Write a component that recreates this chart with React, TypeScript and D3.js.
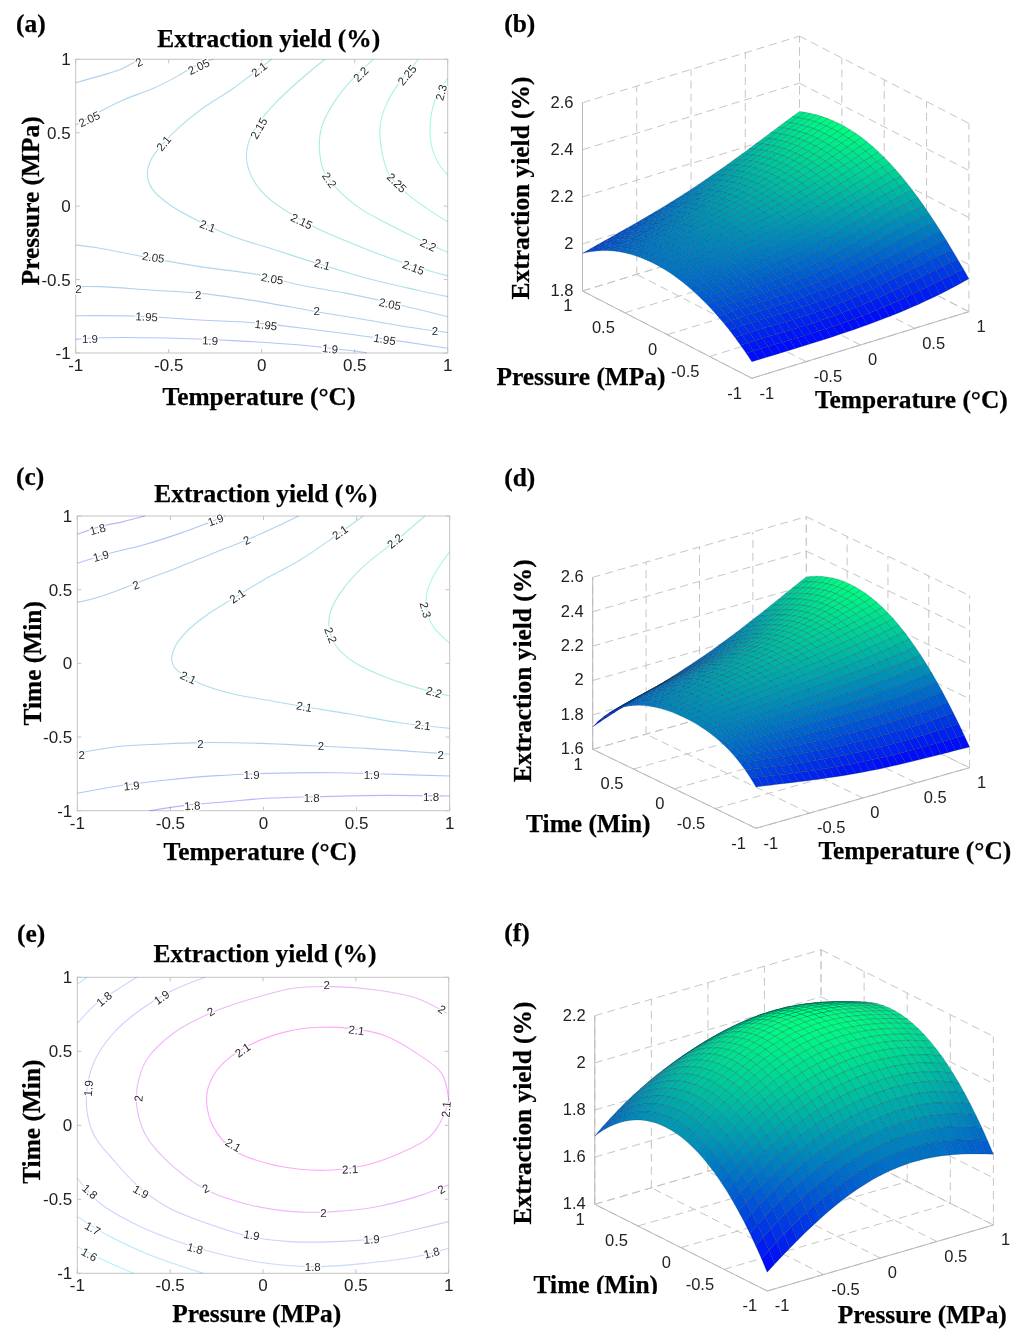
import React from "react";
import * as d3 from "d3";

type Pt = [number, number];
type Line = { level: number; points: Pt[] };
type Lab = [string, number, number, number]; // text, x, y, rotation of the label along its line

const TICKS = [-1, -0.5, 0, 0.5, 1];

// ---- contour lines: Temperature / Pressure
const contoursA: Line[] = [
  { level: 2, points: [[-1,.84],[-.87,.887],[-.76,.93],[-.67,.99],[-.65,1]] },
  { level: 2.05, points: [[-1,.553],[-.87,.644],[-.744,.723],[-.582,.803],[-.457,.882],[-.35,.96],[-.26,1]] },
  { level: 2.1, points: [[.054,1],[-.045,.905],[-.152,.803],[-.33,.655],[-.44,.541],[-.529,.428],[-.591,.326],[-.615,.224],[-.591,.121],[-.493,.008],[-.332,-.106],[-.152,-.208],[.045,-.287],[.296,-.389],[.565,-.491],[.833,-.571],[1,-.616]] },
  { level: 2.15, points: [[.34,1],[.206,.859],[.081,.712],[-.018,.564],[-.072,.428],[-.081,.314],[-.045,.178],[.027,.065],[.152,-.049],[.296,-.151],[.529,-.276],[.744,-.378],[1,-.475]] },
  { level: 2.2, points: [[.6,1],[.493,.871],[.385,.7],[.323,.541],[.31,.405],[.332,.246],[.403,.121],[.529,-.015],[.69,-.128],[.851,-.23],[1,-.314]] },
  { level: 2.25, points: [[.842,1],[.744,.848],[.672,.7],[.636,.541],[.645,.383],[.681,.224],[.78,.087],[.887,-.015],[1,-.106]] },
  { level: 2.3, points: [[1,.871],[.932,.723],[.905,.541],[.914,.405],[.95,.292],[1,.212]] },
  { level: 2.05, points: [[-1,-.264],[-.87,-.287],[-.636,-.344],[-.332,-.412],[-.009,-.469],[.206,-.537],[.457,-.594],[.744,-.673],[1,-.753]] },
  { level: 2, points: [[-1,-.548],[-.87,-.548],[-.6,-.571],[-.332,-.594],[-.009,-.65],[.296,-.719],[.565,-.775],[.833,-.832],[1,-.861]] },
  { level: 1.95, points: [[-1,-.746],[-.69,-.748],[-.332,-.775],[-.009,-.798],[.296,-.843],[.6,-.893],[1,-.968]] },
  { level: 1.9, points: [[-1,-.907],[-.87,-.896],[-.509,-.898],[-.152,-.916],[.206,-.946],[.565,-.998]] },
];
const labelsA: Lab[] = [
  ["2",-.66,.98,-25],["2.05",-.339,.95,-25],["2.05",-.927,.593,-25],["2.1",-.014,.932,-38],["2.15",-.016,.53,-60],
  ["2.1",-.527,.428,-50],["2.2",.532,.898,-45],["2.25",.781,.893,-50],["2.3",.965,.775,-75],["2.2",.364,.178,55],
  ["2.25",.726,.16,45],["2.15",.215,-.103,25],["2.1",-.291,-.135,20],["2.2",.896,-.264,25],["2.15",.816,-.417,20],
  ["2.1",.326,-.396,15],["2.05",-.582,-.348,8],["2.05",.057,-.494,10],["2.05",.69,-.666,12],["2",-.985,-.562,0],
  ["2",-.341,-.605,0],["2",.296,-.712,0],["2",.932,-.85,0],["1.95",-.618,-.753,3],["1.95",.023,-.809,7],
  ["1.95",.661,-.907,10],["1.9",-.923,-.907,0],["1.9",-.277,-.916,3],["1.9",.368,-.971,6],
];

// ---- contour lines: Temperature / Time
const contoursC: Line[] = [
  { level: 1.8, points: [[-1,.876],[-.878,.928],[-.753,.962],[-.637,1]] },
  { level: 1.9, points: [[-1,.679],[-.825,.747],[-.646,.803],[-.449,.882],[-.305,.95],[-.207,1]] },
  { level: 2, points: [[-1,.414],[-.878,.452],[-.663,.554],[-.449,.656],[-.27,.747],[-.09,.837],[.071,.928],[.187,1]] },
  { level: 2.1, points: [[.536,1],[.393,.871],[.196,.701],[0,.566],[-.162,.441],[-.305,.328],[-.422,.204],[-.475,.113],[-.493,.023],[-.466,-.045],[-.341,-.136],[-.162,-.208],[.017,-.249],[.196,-.29],[.465,-.344],[.733,-.403],[1,-.441]] },
  { level: 2.2, points: [[.867,1],[.715,.837],[.536,.656],[.411,.475],[.357,.339],[.354,.226],[.393,.113],[.483,.011],[.626,-.079],[.805,-.158],[1,-.222]] },
  { level: 2.3, points: [[1,.758],[.921,.611],[.877,.475],[.877,.362],[.912,.249],[1,.136]] },
  { level: 2, points: [[-1,-.611],[-.789,-.566],[-.556,-.548],[-.341,-.538],[-.019,-.543],[.286,-.561],[.554,-.577],[.823,-.6],[1,-.615]] },
  { level: 1.9, points: [[-1,-.882],[-.807,-.837],[-.52,-.792],[-.251,-.762],[.017,-.747],[.375,-.742],[.644,-.751],[1,-.765]] },
  { level: 1.8, points: [[-.613,-1],[-.412,-.962],[-.198,-.939],[.017,-.916],[.286,-.905],[.644,-.896],[1,-.9]] },
];
const labelsC: Lab[] = [
  ["1.8",-.891,.91,-15],["1.9",-.257,.973,-20],["1.9",-.873,.729,-15],["2",-.09,.837,-25],["2",-.685,.532,-20],
  ["2.1",.411,.889,-35],["2.1",-.141,.457,-35],["2.2",.705,.83,-40],["2.3",.871,.362,75],["2.2",.361,.192,70],
  ["2.1",-.404,-.097,25],["2.2",.916,-.195,15],["2.1",.219,-.294,10],["2.1",.855,-.419,7],["2",-.977,-.618,0],
  ["2",-.339,-.545,0],["2",.309,-.563,0],["2",.952,-.618,0],["1.9",-.708,-.83,-5],["1.9",-.064,-.758,0],
  ["1.9",.581,-.758,0],["1.8",-.382,-.966,-3],["1.8",.259,-.914,0],["1.8",.9,-.905,0],
];

// ---- contour lines: Pressure / Time
const contoursE: Line[] = [
  { level: 1.7, points: [[-1,.955],[-.946,1]] },
  { level: 1.8, points: [[-1,.689],[-.896,.824],[-.788,.914],[-.68,1]] },
  { level: 1.9, points: [[-.312,1],[-.501,.903],[-.662,.779],[-.806,.622],[-.905,.441],[-.946,.261],[-.946,.081],[-.905,-.077],[-.806,-.234],[-.68,-.403],[-.519,-.55],[-.303,-.662],[-.07,-.752],[.145,-.786],[.379,-.786],[.612,-.764],[.81,-.707],[1,-.651]] },
  { level: 2, points: [[.99,.757],[.828,.858],[.612,.914],[.379,.937],[.163,.926],[-.052,.858],[-.285,.757],[-.483,.622],[-.627,.441],[-.677,.261],[-.677,.104],[-.627,-.077],[-.483,-.279],[-.303,-.437],[-.07,-.538],[.163,-.583],[.379,-.583],[.612,-.55],[.828,-.482],[1,-.403]] },
  { level: 2.1, points: [[1,.171],[.962,.351],[.828,.486],[.648,.61],[.469,.655],[.307,.662],[.127,.633],[-.088,.532],[-.232,.396],[-.294,.261],[-.303,.149],[-.268,-.009],[-.16,-.167],[.02,-.257],[.199,-.297],[.379,-.302],[.558,-.268],[.738,-.189],[.899,-.077],[.971,.059],[1,.171]] },
  { level: 1.8, points: [[-1,-.358],[-.878,-.527],[-.698,-.662],[-.483,-.775],[-.25,-.865],[.02,-.932],[.289,-.955],[.558,-.932],[.828,-.887],[1,-.831]] },
  { level: 1.7, points: [[-1,-.617],[-.824,-.752],[-.609,-.876],[-.321,-1]] },
  { level: 1.6, points: [[-1,-.82],[-.86,-.91],[-.698,-1]] },
];
const labelsE: Lab[] = [
  ["1.8",-.856,.854,-40],["1.9",-.546,.865,-35],["2",-.282,.768,-30],["2",.343,.946,0],["2",.964,.784,35],
  ["2.1",.504,.642,8],["2.1",-.11,.509,-35],["1.9",-.941,.25,-85],["2",-.671,.182,-85],["2.1",.986,.108,-85],
  ["2.1",-.16,-.133,30],["2.1",.469,-.297,-3],["1.8",-.932,-.448,40],["1.9",-.657,-.448,30],["2",-.309,-.426,-25],
  ["2",.325,-.59,0],["2",.96,-.432,-30],["1.9",-.061,-.741,10],["1.9",.585,-.77,-3],["1.8",-.366,-.831,15],
  ["1.8",.268,-.957,0],["1.8",.908,-.86,-15],["1.7",-.917,-.696,30],["1.6",-.935,-.872,30],
];

// ---- surface heights read at x, y = -1, -0.5, 0, 0.5, 1 (rows: y, columns: x)
const surfaceB = [
  [1.87,1.87,1.875,1.895,1.94],
  [2.01,2.02,2.04,2.09,2.14],
  [2.07,2.10,2.14,2.20,2.27],
  [2.055,2.10,2.157,2.23,2.315],
  [1.96,2.02,2.09,2.18,2.28],
];
const surfaceD = [
  [1.84,1.79,1.75,1.73,1.72],
  [2.015,2.01,2.015,2.03,2.065],
  [2.04,2.10,2.15,2.205,2.27],
  [1.97,2.045,2.115,2.21,2.33],
  [1.73,1.84,1.95,2.09,2.25],
];
const surfaceF = [
  [1.48,1.65,1.75,1.76,1.70],
  [1.75,1.92,2.01,2.03,1.97],
  [1.87,2.04,2.14,2.15,2.09],
  [1.85,2.02,2.12,2.13,2.07],
  [1.69,1.86,1.95,1.97,1.91],
];
const zTicksB = [1.8,2,2.2,2.4,2.6];
const zTicksD = [1.6,1.8,2,2.2,2.4,2.6];
const zTicksF = [1.4,1.6,1.8,2,2.2];

const SERIF = "'Liberation Serif', serif";
const SANS = "'Liberation Sans', sans-serif";
const CELLS = 30;

function Bold({ x, y, rotate, anchor = "middle", children }: any) {
  return (
    <text x={x} y={y} textAnchor={anchor} fontFamily={SERIF} fontWeight="bold" fontSize={25.4} fill="#000" stroke="#000" strokeWidth={0.25}
      transform={rotate ? `rotate(${rotate} ${x} ${y})` : undefined}>{children}</text>
  );
}

function tickText(v: number) { return String(v); }

function ContourPanel({ box, lines, labels, colors, xLabel, yLabel, title, tag }: any) {
  const [l, r, t, b] = box;
  const x = d3.scaleLinear().domain([-1, 1]).range([l, r]);
  const y = d3.scaleLinear().domain([-1, 1]).range([b, t]);
  const path = d3.line<Pt>().x(d => x(d[0])).y(d => y(d[1])).curve(d3.curveCatmullRom.alpha(0.5));
  return (
    <g>
      <rect x={l} y={t} width={r - l} height={b - t} fill="#fff" stroke="#c4c4c4" strokeWidth={1} />
      {TICKS.map(v => (
        <g key={v} stroke="#c4c4c4">
          <line x1={x(v)} x2={x(v)} y1={b} y2={b - 4} /><line x1={x(v)} x2={x(v)} y1={t} y2={t + 4} />
          <line x1={l} x2={l + 4} y1={y(v)} y2={y(v)} /><line x1={r} x2={r - 4} y1={y(v)} y2={y(v)} />
        </g>
      ))}
      {lines.map((c: Line, i: number) => (
        <path key={i} d={path(c.points) || ""} fill="none" stroke={colors(c.level)} strokeOpacity={0.34} strokeWidth={1.1} />
      ))}
      {labels.map((c: Lab, i: number) => (
        <text key={i} x={x(c[1])} y={y(c[2])} dy="0.36em" textAnchor="middle" fontFamily={SANS} fontSize={11.5} fill="#2a2a2a"
          stroke="#fff" strokeWidth={2.5} paintOrder="stroke"
          transform={`rotate(${c[3]} ${x(c[1])} ${y(c[2])})`}>{c[0]}</text>
      ))}
      {TICKS.map(v => (
        <text key={"x" + v} x={x(v)} y={b + 12} dy="0.36em" textAnchor="middle" fontFamily={SANS} fontSize={17} fill="#222">{tickText(v)}</text>
      ))}
      {TICKS.map(v => (
        <text key={"y" + v} x={l - 5} y={y(v)} dy="0.36em" textAnchor="end" fontFamily={SANS} fontSize={17} fill="#222">{tickText(v)}</text>
      ))}
      <Bold x={title[0]} y={title[1]}>Extraction yield (%)</Bold>
      <Bold x={xLabel[0]} y={xLabel[1]}>{xLabel[2]}</Bold>
      <Bold x={yLabel[0]} y={yLabel[1]} rotate={-90}>{yLabel[2]}</Bold>
      <Bold x={tag[0]} y={tag[1]} anchor="start">{tag[2]}</Bold>
    </g>
  );
}

// Smooth drawing surface through the read nodes (the nodes stay exact).
function weights(t: number) {
  return TICKS.map((n, i) => TICKS.reduce((w, m, j) => (j === i ? w : (w * (t - m)) / (n - m)), 1));
}

function SurfacePanel({ grid, zTicks, front, right, left, zTopY, xLabel, yLabel, zLabel, tag, clip }: any) {
  const zMin = zTicks[0], zMax = zTicks[zTicks.length - 1];
  const xDx = d3.scaleLinear().domain([-1, 1]).range([0, right[0] - front[0]]);
  const xDy = d3.scaleLinear().domain([-1, 1]).range([0, right[1] - front[1]]);
  const yDx = d3.scaleLinear().domain([-1, 1]).range([0, left[0] - front[0]]);
  const yDy = d3.scaleLinear().domain([-1, 1]).range([0, left[1] - front[1]]);
  const zDy = d3.scaleLinear().domain([zMin, zMax]).range([0, zTopY - left[1]]);
  const P = (x: number, y: number, z: number): Pt => [
    front[0] + xDx(x) + yDx(y),
    front[1] + xDy(x) + yDy(y) + zDy(z),
  ];
  const seg = (a: Pt, b: Pt, k: string, dash = true) => (
    <line key={k} x1={a[0]} y1={a[1]} x2={b[0]} y2={b[1]} stroke={dash ? "#c6c6c6" : "#b8b8b8"} strokeWidth={1} strokeDasharray={dash ? "8 5" : undefined} />
  );
  const steps = d3.range(CELLS + 1).map(i => -1 + (2 * i) / CELLS);
  const zs = steps.map(y => {
    const wy = weights(y);
    return steps.map(x => {
      const wx = weights(x);
      return d3.sum((grid as number[][]).map((row, j) => wy[j] * d3.sum(row.map((v, i) => v * wx[i]))));
    });
  });
  const flat = zs.flat();
  const color = d3.scaleLinear<string>().domain(d3.extent(flat) as [number, number]).range(["#0000ff", "#00ff80"]);
  const cells: { i: number; j: number }[] = [];
  for (let j = CELLS - 1; j >= 0; j--) for (let i = CELLS - 1; i >= 0; i--) cells.push({ i, j });
  cells.sort((a, b) => b.i + b.j - (a.i + a.j));
  const poly = d3.line<Pt>();
  return (
    <g>
      {TICKS.map(v => seg(P(v, -1, zMin), P(v, 1, zMin), "fx" + v))}
      {TICKS.map(v => seg(P(-1, v, zMin), P(1, v, zMin), "fy" + v))}
      {TICKS.map(v => seg(P(v, 1, zMin), P(v, 1, zMax), "wx" + v))}
      {TICKS.map(v => seg(P(1, v, zMin), P(1, v, zMax), "wy" + v))}
      {zTicks.map((z: number) => seg(P(-1, 1, z), P(1, 1, z), "zx" + z))}
      {zTicks.map((z: number) => seg(P(1, 1, z), P(1, -1, z), "zy" + z))}
      {seg(P(-1, -1, zMin), P(1, -1, zMin), "a1", false)}
      {seg(P(-1, -1, zMin), P(-1, 1, zMin), "a2", false)}
      {seg(P(-1, 1, zMin), P(-1, 1, zMax), "a3", false)}
      {cells.map(({ i, j }) => {
        const c: Pt[] = [
          P(steps[i], steps[j], zs[j][i]), P(steps[i + 1], steps[j], zs[j][i + 1]),
          P(steps[i + 1], steps[j + 1], zs[j + 1][i + 1]), P(steps[i], steps[j + 1], zs[j + 1][i]),
        ];
        const m = (zs[j][i] + zs[j][i + 1] + zs[j + 1][i + 1] + zs[j + 1][i]) / 4;
        return <path key={i + "-" + j} d={(poly(c) || "") + "Z"} fill={color(m)} stroke="#04263a" strokeOpacity={0.38} strokeWidth={0.55} strokeLinejoin="round" />;
      })}
      {zTicks.map((z: number) => {
        const p = P(-1, 1, z);
        return <text key={"z" + z} x={p[0] - 9} y={p[1] - 1} dy="0.36em" textAnchor="end" fontFamily={SANS} fontSize={16.5} fill="#222">{tickText(z)}</text>;
      })}
      {TICKS.map(v => {
        const p = P(v, -1, zMin);
        return <text key={"tx" + v} x={p[0] + 7.5} y={p[1] + 14.4} dy="0.36em" textAnchor="start" fontFamily={SANS} fontSize={16.5} fill="#222">{tickText(v)}</text>;
      })}
      {TICKS.map(v => {
        const p = P(-1, v, zMin);
        return <text key={"ty" + v} x={p[0] - 10} y={p[1] + 14.5} dy="0.36em" textAnchor="end" fontFamily={SANS} fontSize={16.5} fill="#222">{tickText(v)}</text>;
      })}
      <Bold x={xLabel[0]} y={xLabel[1]}>{xLabel[2]}</Bold>
      <g clipPath={clip}><Bold x={yLabel[0]} y={yLabel[1]}>{yLabel[2]}</Bold></g>
      <Bold x={zLabel[0]} y={zLabel[1]} rotate={-90}>Extraction yield (%)</Bold>
      <Bold x={tag[0]} y={tag[1]} anchor="start">{tag[2]}</Bold>
    </g>
  );
}

export default function App() {
  const winter = d3.scaleLinear<string>().domain([1.8, 2.3]).range(["#2828ff", "#00f0a0"]);
  const cool = d3.scaleLinear<string>().domain([1.6, 2.1]).range(["#00e8ff", "#ff00f0"]);
  return (
    <svg width={1024} height={1339} viewBox="0 0 1024 1339" style={{ position: "absolute", left: 0, top: 0, display: "block", background: "#fff" }}>
      <defs>
        <clipPath id="clipTime"><rect x={500} y={1260} width={200} height={34} /></clipPath>
        <filter id="soft" x="0" y="0" width="100%" height="100%"><feGaussianBlur stdDeviation={0.35} /></filter>
      </defs>
      <g filter="url(#soft)">
        <rect x={0} y={0} width={1024} height={1339} fill="#fff" />
        <ContourPanel box={[75.7, 447.7, 59.3, 353]} lines={contoursA} labels={labelsA} colors={winter}
          title={[268.7, 47]} xLabel={[259, 405, "Temperature (°C)"]} yLabel={[39, 200.8, "Pressure (MPa)"]} tag={[16, 32, "(a)"]} />
        <ContourPanel box={[77.3, 449.7, 516, 810.7]} lines={contoursC} labels={labelsC} colors={winter}
          title={[265.7, 501.7]} xLabel={[260, 860, "Temperature (°C)"]} yLabel={[40.7, 663.3, "Time (Min)"]} tag={[16, 485, "(c)"]} />
        <ContourPanel box={[77.3, 448.7, 977.3, 1273.3]} lines={contoursE} labels={labelsE} colors={cool}
          title={[265, 961.7]} xLabel={[256.7, 1321.7, "Pressure (MPa)"]} yLabel={[40, 1121.7, "Time (Min)"]} tag={[17, 941.7, "(e)"]} />
        <SurfacePanel grid={surfaceB} zTicks={zTicksB} front={[751.9, 378.3]} right={[968.9, 311.7]} left={[582.5, 291]} zTopY={102.7}
          xLabel={[911.4, 408, "Temperature (°C)"]} yLabel={[581, 385, "Pressure (MPa)"]} zLabel={[529, 188]} tag={[504.3, 32, "(b)"]} />
        <SurfacePanel grid={surfaceD} zTicks={zTicksD} front={[756, 828.3]} right={[969.6, 767.7]} left={[592.7, 749.3]} zTopY={577.3}
          xLabel={[914.8, 859, "Temperature (°C)"]} yLabel={[588.3, 831.7, "Time (Min)"]} zLabel={[531.5, 670.8]} tag={[504.3, 486, "(d)"]} />
        <SurfacePanel grid={surfaceF} zTicks={zTicksF} front={[767.2, 1291]} right={[993.4, 1225]} left={[594.8, 1204.3]} zTopY={1015.7}
          xLabel={[922.3, 1322.7, "Pressure (MPa)"]} yLabel={[595.8, 1292.7, "Time (Min)"]} zLabel={[530.8, 1113]} tag={[504.3, 940.7, "(f)"]} clip="url(#clipTime)" />
      </g>
    </svg>
  );
}
